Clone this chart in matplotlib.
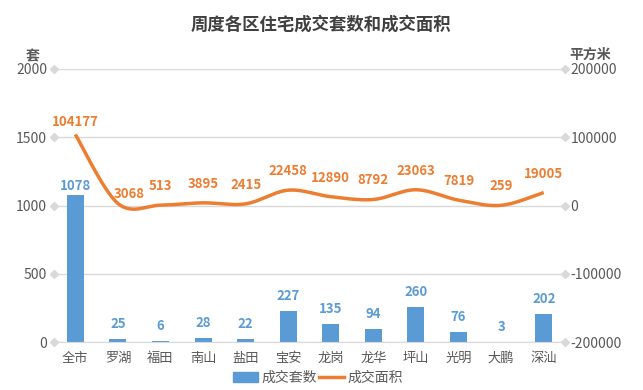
import numpy as np
import matplotlib
matplotlib.use("Agg")
import matplotlib.pyplot as plt
from matplotlib.transforms import blended_transform_factory
from matplotlib.lines import Line2D
from matplotlib.patches import Patch

plt.rcParams['font.family'] = ['Noto Sans CJK SC', 'DejaVu Sans']

categories = ['全市', '罗湖', '福田', '南山', '盐田', '宝安', '龙岗', '龙华', '坪山', '光明', '大鹏', '深汕']
units = [1078, 25, 6, 28, 22, 227, 135, 94, 260, 76, 3, 202]
area = [104177, 3068, 513, 3895, 2415, 22458, 12890, 8792, 23063, 7819, 259, 19005]
left_ticks = [0, 500, 1000, 1500, 2000]
right_ticks = [-200000, -100000, 0, 100000, 200000]

BLUE = '#5B9BD5'
ORANGE = '#ED7D31'
GRID = '#D9D9D9'
TXT = '#595959'

fig = plt.figure(figsize=(6.43, 3.90), dpi=100)
ax = fig.add_axes([54/643, 1-342/390, (565-54)/643, (342-69)/390])
ax2 = ax.twinx()

x = np.arange(len(categories))
ax.bar(x, units, width=0.4, color=BLUE, zorder=2)
ax.set_xlim(-0.5, len(categories)-0.5)
ax.set_ylim(0, 2000)
ax.set_yticks(left_ticks)
ax.set_yticklabels([str(t) for t in left_ticks])
ax.grid(axis='y', color=GRID, lw=1, zorder=0)
ax.set_axisbelow(True)
ax.set_xticks(x)
ax.set_xticklabels(categories)
for s in ['top', 'left', 'right']:
    ax.spines[s].set_visible(False)
ax.spines['bottom'].set_color(GRID)
ax.tick_params(axis='x', length=0, labelsize=9.5, colors=TXT, pad=7)
ax.tick_params(axis='y', length=0, labelsize=10, colors=TXT, pad=5)

# label placement offsets in pixels (dx, dy)
bar_label_off = {0: (0, 9)}
line_label_off = {0: (0, 12), 1: (11, 9)}

for i, (xi, v) in enumerate(zip(x, units)):
    dx, dy = bar_label_off.get(i, (0, 15))
    ax.annotate(str(v), (xi, v), xytext=(dx, dy), textcoords='offset pixels',
                ha='center', va='center', color=BLUE, fontsize=9.5, fontweight='bold')

# smooth line (Bezier rendering through the data points)
ya = np.array(area, dtype=float)
xs, ys = [], []
n = len(ya)
for i in range(n-1):
    p0 = np.array([x[max(i-1, 0)], ya[max(i-1, 0)]])
    p1 = np.array([x[i], ya[i]])
    p2 = np.array([x[i+1], ya[i+1]])
    p3 = np.array([x[min(i+2, n-1)], ya[min(i+2, n-1)]])
    c1 = p1 + (p2 - p0) / 6
    c2 = p2 - (p3 - p1) / 6
    t = np.linspace(0, 1, 30)[:, None]
    pts = (1-t)**3*p1 + 3*(1-t)**2*t*c1 + 3*(1-t)*t**2*c2 + t**3*p2
    xs.extend(pts[:, 0]); ys.extend(pts[:, 1])
ax2.plot(xs, ys, color=ORANGE, lw=2.5, solid_capstyle='butt', zorder=3)
ax2.set_ylim(-200000, 200000)
ax2.set_yticks(right_ticks)
ax2.set_yticklabels([str(t) for t in right_ticks])
for s in ['top', 'left', 'right', 'bottom']:
    ax2.spines[s].set_visible(False)
ax2.tick_params(axis='y', length=0, labelsize=10, colors=TXT, pad=4)

for i, (xi, v) in enumerate(zip(x, area)):
    dx, dy = line_label_off.get(i, (0, 19))
    ax2.annotate(str(v), (xi, v), xytext=(dx, dy), textcoords='offset pixels',
                 ha='center', va='center', color=ORANGE, fontsize=9.5, fontweight='bold')

# diamond tick markers at gridline ends
trL = blended_transform_factory(ax.transAxes, ax.transData)
ax.plot([0]*len(left_ticks), left_ticks, 'D', ms=4, color=GRID, transform=trL, clip_on=False, zorder=1)
ax.plot([1]*len(left_ticks), left_ticks, 'D', ms=4, color=GRID, transform=trL, clip_on=False, zorder=1)

fig.text(321/643, 1-25/390, '周度各区住宅成交套数和成交面积', ha='center', va='center',
         fontsize=12.5, fontweight='bold', color='#404040')
fig.text(33/643, 1-56/390, '套', ha='center', va='center', fontsize=10, fontweight='bold', color=TXT)
fig.text(590/643, 1-55/390, '平方米', ha='center', va='center', fontsize=10, fontweight='bold', color=TXT)

handles = [Patch(color=BLUE, label='成交套数'), Line2D([], [], color=ORANGE, lw=2.5, label='成交面积')]
fig.legend(handles=handles, loc='center', bbox_to_anchor=(318/643, 1-378/390), ncol=2,
           frameon=False, fontsize=10, handlelength=1.8, handletextpad=0.3, columnspacing=0.1,
           labelcolor=TXT)

fig.savefig('out.png', dpi=100)
